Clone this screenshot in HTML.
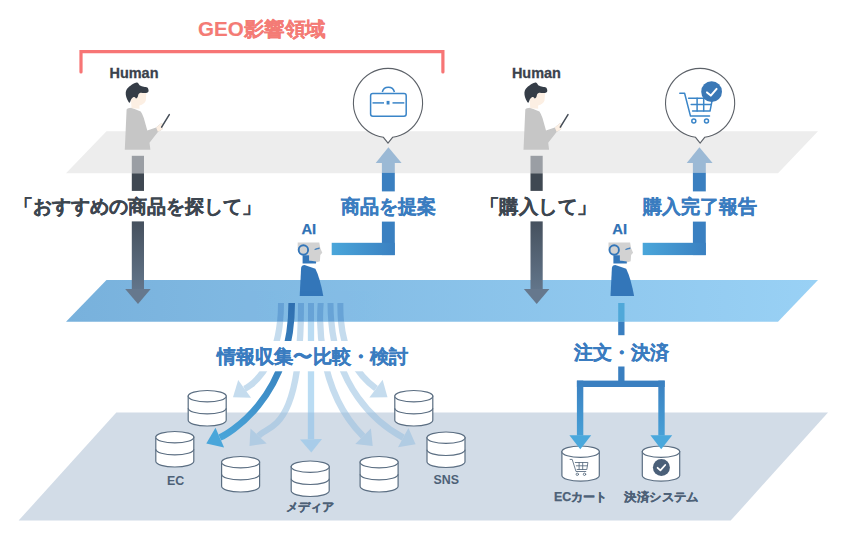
<!DOCTYPE html>
<html><head><meta charset="utf-8">
<style>
html,body{margin:0;padding:0;background:#fff;}
body{width:850px;height:545px;overflow:hidden;}
svg{display:block;font-family:"Liberation Sans",sans-serif;}
.jt{font-weight:bold;}
.st{stroke-width:0.3px;}
</style></head><body>
<svg width="850" height="545" viewBox="0 0 850 545">
<defs>
  <clipPath id="inPlane"><rect x="0" y="0" width="850" height="321.7"/></clipPath>
  <clipPath id="belowPlane"><rect x="0" y="321.7" width="850" height="300"/></clipPath>
  <linearGradient id="bluePlane" x1="0" x2="1" y1="0" y2="0">
    <stop offset="0" stop-color="#78b1dc"/>
    <stop offset="1" stop-color="#99d1f5"/>
  </linearGradient>
  <linearGradient id="humBar" x1="0" x2="0" y1="0" y2="1">
    <stop offset="0" stop-color="#46515e"/>
    <stop offset="1" stop-color="#62758a"/>
  </linearGradient>
  <linearGradient id="lH" gradientUnits="objectBoundingBox" x1="0" x2="1" y1="0" y2="0">
    <stop offset="0" stop-color="#4aa6da"/>
    <stop offset="1" stop-color="#3a80c1"/>
  </linearGradient>
  <linearGradient id="darkStream" gradientUnits="userSpaceOnUse" x1="291" y1="303" x2="215" y2="440">
    <stop offset="0" stop-color="#2f6fb0"/>
    <stop offset="1" stop-color="#4aa6da"/>
  </linearGradient>
  <linearGradient id="vDown" gradientUnits="userSpaceOnUse" x1="0" y1="380" x2="0" y2="449">
    <stop offset="0" stop-color="#3a7fc0"/>
    <stop offset="1" stop-color="#4aa8dc"/>
  </linearGradient>
</defs>

<!-- planes -->
<polygon points="106.5,131.3 818,131.3 778,173.3 66,173.3" fill="#ededed"/>
<polygon points="106.5,280 818,280 778,321.7 66,321.7" fill="url(#bluePlane)"/>
<polygon points="116.3,412.5 828,412.5 730.7,520.6 18.6,520.6" fill="#d2dce7"/>

<!-- bracket -->
<path d="M81,72 V51.6 H442.9 V72" fill="none" stroke="#f77575" stroke-width="3.2" stroke-linecap="round" stroke-linejoin="miter"/>
<text x="198" y="36" fill="#f47b75" stroke="#f47b75" stroke-width="0.15" font-size="20" class="jt" textLength="128" lengthAdjust="spacingAndGlyphs">GEO影響領域</text>

<!-- humans -->
<text x="109.5" y="77.8" fill="#3a424c" stroke="#3a424c" stroke-width="0.3" font-size="15" class="jt" textLength="49" lengthAdjust="spacingAndGlyphs">Human</text>
<text x="511.9" y="77.8" fill="#3a424c" stroke="#3a424c" stroke-width="0.3" font-size="15" class="jt" textLength="49" lengthAdjust="spacingAndGlyphs">Human</text>

<g>
 <path d="M124.8,149.8 L126.6,109.6 Q127.5,107.8 131.5,107.7 L140.7,111.5 Q142.5,114 143.8,118.1 L147.3,130.4 L156.1,127.4 L161.4,123 L163.2,124.3 L162.3,129.6 L157.9,132 L149.5,142.8 L150.4,149.8 Z" fill="#c6c6c6"/>
 <path d="M156.1,127.6 L161.4,123 L163.2,124.3 L162.3,129.6 L157.9,131.8 Z" fill="#fcefe3"/>
 <line x1="161.6" y1="127.2" x2="169.3" y2="114.6" stroke="#454d57" stroke-width="1.5" stroke-linecap="round"/>
 <path d="M130.6,96 L131.6,108.2 L139.5,108.8 L139.4,105.6 Q144.6,104 145.8,100.5 L146.3,94 Q146,91 143,91 L133,92 Z" fill="#fcefe3"/>
 <path d="M136.70,82.60 C135.73,82.65 134.20,83.27 132.80,84.10 C131.40,84.93 129.42,86.48 128.30,87.60 C127.18,88.72 126.52,89.62 126.10,90.80 C125.68,91.98 125.63,93.30 125.80,94.70 C125.97,96.10 126.47,97.87 127.10,99.20 C127.73,100.53 128.92,102.70 129.60,102.70 C130.28,102.70 130.60,100.10 131.20,99.20 C131.80,98.30 132.60,97.62 133.20,97.30 C133.80,96.98 134.32,97.12 134.80,97.30 C135.28,97.48 135.62,98.43 136.10,98.40 C136.58,98.37 137.28,97.82 137.70,97.10 C138.12,96.38 138.12,94.82 138.60,94.10 C139.08,93.38 139.63,92.97 140.60,92.80 C141.57,92.63 143.23,93.15 144.40,93.10 C145.57,93.05 146.90,92.93 147.60,92.50 C148.30,92.07 148.65,91.32 148.60,90.50 C148.55,89.68 148.10,88.23 147.30,87.60 C146.50,86.97 145.03,87.07 143.80,86.70 C142.57,86.33 140.77,85.88 139.90,85.40 C139.03,84.92 139.13,84.27 138.60,83.80 C138.07,83.33 137.67,82.55 136.70,82.60 Z" fill="#353d47"/>
 <rect x="131.8" y="155.8" width="12.2" height="17.5" fill="#9a9ea4"/>
 <rect x="131.8" y="173.3" width="12.2" height="17.6" fill="#3f4852"/>
 <rect x="131.8" y="221.4" width="12.2" height="68" fill="url(#humBar)"/>
 <polygon points="125.2,288.9 150.7,288.9 138,304.1" fill="#66788d"/>
</g>
<g transform="translate(398.7,0)">
<g>
 <path d="M124.8,149.8 L126.6,109.6 Q127.5,107.8 131.5,107.7 L140.7,111.5 Q142.5,114 143.8,118.1 L147.3,130.4 L156.1,127.4 L161.4,123 L163.2,124.3 L162.3,129.6 L157.9,132 L149.5,142.8 L150.4,149.8 Z" fill="#c6c6c6"/>
 <path d="M156.1,127.6 L161.4,123 L163.2,124.3 L162.3,129.6 L157.9,131.8 Z" fill="#fcefe3"/>
 <line x1="161.6" y1="127.2" x2="169.3" y2="114.6" stroke="#454d57" stroke-width="1.5" stroke-linecap="round"/>
 <path d="M130.6,96 L131.6,108.2 L139.5,108.8 L139.4,105.6 Q144.6,104 145.8,100.5 L146.3,94 Q146,91 143,91 L133,92 Z" fill="#fcefe3"/>
 <path d="M136.70,82.60 C135.73,82.65 134.20,83.27 132.80,84.10 C131.40,84.93 129.42,86.48 128.30,87.60 C127.18,88.72 126.52,89.62 126.10,90.80 C125.68,91.98 125.63,93.30 125.80,94.70 C125.97,96.10 126.47,97.87 127.10,99.20 C127.73,100.53 128.92,102.70 129.60,102.70 C130.28,102.70 130.60,100.10 131.20,99.20 C131.80,98.30 132.60,97.62 133.20,97.30 C133.80,96.98 134.32,97.12 134.80,97.30 C135.28,97.48 135.62,98.43 136.10,98.40 C136.58,98.37 137.28,97.82 137.70,97.10 C138.12,96.38 138.12,94.82 138.60,94.10 C139.08,93.38 139.63,92.97 140.60,92.80 C141.57,92.63 143.23,93.15 144.40,93.10 C145.57,93.05 146.90,92.93 147.60,92.50 C148.30,92.07 148.65,91.32 148.60,90.50 C148.55,89.68 148.10,88.23 147.30,87.60 C146.50,86.97 145.03,87.07 143.80,86.70 C142.57,86.33 140.77,85.88 139.90,85.40 C139.03,84.92 139.13,84.27 138.60,83.80 C138.07,83.33 137.67,82.55 136.70,82.60 Z" fill="#353d47"/>
 <rect x="131.8" y="155.8" width="12.2" height="17.5" fill="#9a9ea4"/>
 <rect x="131.8" y="173.3" width="12.2" height="17.6" fill="#3f4852"/>
 <rect x="131.8" y="221.4" width="12.2" height="68" fill="url(#humBar)"/>
 <polygon points="125.2,288.9 150.7,288.9 138,304.1" fill="#66788d"/>
</g></g>

<!-- bubbles -->
<path d="M383.4,137.29 A34.6,34.6 0 1 1 392.6,137.29 L388.0,143.1 Z" fill="#fff" stroke="#5c6168" stroke-width="1.1"/>
<g fill="none" stroke="#3a85c8" stroke-width="1.5">
 <rect x="370.6" y="93.6" width="35.6" height="22.6" rx="2.2"/>
 <path d="M382.3,92 A6.2,6.2 0 0 1 394.4,92" />
 <line x1="372.5" y1="102.9" x2="384" y2="102.9"/>
 <line x1="392.5" y1="102.9" x2="404.3" y2="102.9"/>
</g>
<rect x="386.6" y="100.9" width="2.9" height="3.6" fill="#3a85c8"/>

<path d="M695.5,137.29 A34.6,34.6 0 1 1 704.7,137.29 L700.1,143.1 Z" fill="#fff" stroke="#5c6168" stroke-width="1.1"/>
<g fill="none" stroke="#3a85c8" stroke-width="1.5" stroke-linejoin="round" stroke-linecap="round">
 <path d="M679.8,93.3 L684.6,93.3 L690.5,116.1 L709.5,116.1"/>
 <path d="M688.6,98.3 L712.5,98.3 L710,111.1 L692.6,111.1"/>
 <line x1="691.2" y1="104.5" x2="711" y2="104.5"/>
 <line x1="697.1" y1="98.3" x2="697.1" y2="111.1"/>
 <line x1="703.7" y1="98.3" x2="703.7" y2="111.1"/>
 <circle cx="693.8" cy="121.1" r="2"/>
 <circle cx="706.5" cy="121.1" r="2"/>
</g>
<circle cx="711.6" cy="91.7" r="10.4" fill="#3a78b6"/>
<path d="M707,92.4 L710.8,95.6 L716.6,88.9" fill="none" stroke="#fff" stroke-width="2" stroke-linecap="round" stroke-linejoin="round"/>

<!-- AI arrows up (left) -->
<polygon points="375.7,162.9 401.6,162.9 388.4,147.3" fill="#9bb9d5"/>
<rect x="381.9" y="162.5" width="12.9" height="10.6" fill="#9bb9d5"/>
<rect x="381.9" y="172.9" width="12.9" height="18.5" fill="#3a7fc0"/>
<rect x="381.9" y="221.6" width="12.9" height="33.5" fill="#3a80c1"/>
<rect x="331.7" y="242.8" width="63.1" height="12.3" fill="url(#lH)"/>

<g transform="translate(311,0)">
<polygon points="375.7,162.9 401.6,162.9 388.4,147.3" fill="#9bb9d5"/>
<rect x="381.9" y="162.5" width="12.9" height="10.6" fill="#9bb9d5"/>
<rect x="381.9" y="172.9" width="12.9" height="18.5" fill="#3a7fc0"/>
<rect x="381.9" y="221.6" width="12.9" height="33.5" fill="#3a80c1"/>
<rect x="331.7" y="242.8" width="63.1" height="12.3" fill="url(#lH)"/>
</g>

<!-- robots -->

<g>
 <path d="M297.7,242.6 L319.3,242.6 L320.3,248.3 L322.3,252.8 L320.3,255.1 L319.9,261.2 L315.9,262.5 L309.1,260.3 L309.1,255.5 L303.4,255.5 L297.7,250 Z" fill="#d2d2d2"/>
 <circle cx="303.4" cy="250" r="4.7" fill="#d2d2d2" stroke="#3376b9" stroke-width="1.9"/>
 <path d="M314.8,249.2 L319.3,247.8 L319.3,248.6 L314.8,249.6 Z" fill="#3376b9" stroke="#3376b9" stroke-width="0.6"/>
 <path d="M302.6,255.2 L309.1,255.2 L309.1,260.6 L316,261.6 L316,263.4 L302.6,263.4 Z" fill="#3376b9"/>
 <path d="M299.7,296.1 L301.1,268 Q301.5,265 304.5,265 L315.4,268.8 Q320,278 323.3,296.1 Z" fill="#3376b9"/>
 <text x="301.4" y="233.6" fill="#2f72b5" stroke="#2f72b5" stroke-width="0.25" font-size="14.8" class="jt">AI</text>
</g>
<g transform="translate(310.8,0)">
<g>
 <path d="M297.7,242.6 L319.3,242.6 L320.3,248.3 L322.3,252.8 L320.3,255.1 L319.9,261.2 L315.9,262.5 L309.1,260.3 L309.1,255.5 L303.4,255.5 L297.7,250 Z" fill="#d2d2d2"/>
 <circle cx="303.4" cy="250" r="4.7" fill="#d2d2d2" stroke="#3376b9" stroke-width="1.9"/>
 <path d="M314.8,249.2 L319.3,247.8 L319.3,248.6 L314.8,249.6 Z" fill="#3376b9" stroke="#3376b9" stroke-width="0.6"/>
 <path d="M302.6,255.2 L309.1,255.2 L309.1,260.6 L316,261.6 L316,263.4 L302.6,263.4 Z" fill="#3376b9"/>
 <path d="M299.7,296.1 L301.1,268 Q301.5,265 304.5,265 L315.4,268.8 Q320,278 323.3,296.1 Z" fill="#3376b9"/>
 <text x="301.4" y="233.6" fill="#2f72b5" stroke="#2f72b5" stroke-width="0.25" font-size="14.8" class="jt">AI</text>
</g></g>

<!-- fan -->
<g clip-path="url(#inPlane)" opacity="0.25"><path d="M281.0,303.0 C281.0,373.0 244.6,388.9 244.6,388.9" fill="none" stroke="#145aaa" stroke-width="6"/><path d="M301.0,303.0 C301.0,432.0 269.4,424.2 258.6,436.0" fill="none" stroke="#145aaa" stroke-width="6"/><path d="M311.0,303.0 C311.0,325.7 311.0,416.6 311.0,439.3" fill="none" stroke="#145aaa" stroke-width="6"/><path d="M320.7,303.0 C320.7,304.0 312.2,385.4 363.1,436.3" fill="none" stroke="#145aaa" stroke-width="6"/><path d="M330.5,303.0 C330.5,388.0 379.4,424.9 403.2,437.6" fill="none" stroke="#145aaa" stroke-width="6"/><path d="M340.4,303.0 C340.4,313.0 337.6,359.9 376.0,388.6" fill="none" stroke="#145aaa" stroke-width="6"/></g><g clip-path="url(#belowPlane)"><g opacity="0.55"><path d="M281.0,303.0 C281.0,373.0 244.6,388.9 244.6,388.9" fill="none" stroke="#96bfe0" stroke-width="6.3"/><polygon points="238.2,380.0 233.0,397.2 251.0,397.8" fill="#96bfe0"/></g><g opacity="0.55"><path d="M301.0,303.0 C301.0,432.0 269.4,424.2 258.6,436.0" fill="none" stroke="#96bfe0" stroke-width="6.3"/><polygon points="250.5,428.6 249.5,445.9 266.7,443.4" fill="#96bfe0"/></g><g opacity="0.58"><path d="M311.0,303.0 C311.0,325.7 311.0,416.6 311.0,439.3" fill="none" stroke="#8bc3ea" stroke-width="6.3"/><polygon points="300.0,439.5 311.3,452.5 322.0,439.1" fill="#8bc3ea"/></g><g opacity="0.55"><path d="M320.7,303.0 C320.7,304.0 312.2,385.4 363.1,436.3" fill="none" stroke="#96bfe0" stroke-width="6.3"/><polygon points="355.3,444.1 372.7,445.9 370.9,428.5" fill="#96bfe0"/></g><g opacity="0.55"><path d="M330.5,303.0 C330.5,388.0 379.4,424.9 403.2,437.6" fill="none" stroke="#96bfe0" stroke-width="6.3"/><polygon points="398.0,447.3 415.6,444.2 408.4,427.9" fill="#96bfe0"/></g><g opacity="0.55"><path d="M340.4,303.0 C340.4,313.0 337.6,359.9 376.0,388.6" fill="none" stroke="#96bfe0" stroke-width="6.3"/><polygon points="369.4,397.4 387.5,397.2 382.6,379.8" fill="#96bfe0"/></g></g><path d="M291.7,303.0 C291.7,400.0 226.2,434.8 219.8,437.6" fill="none" stroke="url(#darkStream)" stroke-width="6.6"/><polygon points="215.5,427.7 206.3,443.4 224.1,447.5" fill="#4aa6da"/>
<rect x="214" y="341" width="198" height="30.3" fill="#fff"/>

<!-- databases -->
<path d="M188.2,396.2 L188.2,420.3 A19,5.7 0 0 0 226.2,420.3 L226.2,396.2 Z" fill="#fff" stroke="#5b6e82" stroke-width="1.2"/><ellipse cx="207.2" cy="396.2" rx="19" ry="5.7" fill="#fff" stroke="#5b6e82" stroke-width="1.2"/><path d="M188.2,408.2 A19,5.7 0 0 0 226.2,408.2" fill="none" stroke="#5b6e82" stroke-width="1.2"/>
<path d="M155.8,437.2 L155.8,461.3 A19,5.7 0 0 0 193.8,461.3 L193.8,437.2 Z" fill="#fff" stroke="#5b6e82" stroke-width="1.2"/><ellipse cx="174.8" cy="437.2" rx="19" ry="5.7" fill="#fff" stroke="#5b6e82" stroke-width="1.2"/><path d="M155.8,449.2 A19,5.7 0 0 0 193.8,449.2" fill="none" stroke="#5b6e82" stroke-width="1.2"/>
<path d="M221.6,462.2 L221.6,486.3 A19,5.7 0 0 0 259.6,486.3 L259.6,462.2 Z" fill="#fff" stroke="#5b6e82" stroke-width="1.2"/><ellipse cx="240.6" cy="462.2" rx="19" ry="5.7" fill="#fff" stroke="#5b6e82" stroke-width="1.2"/><path d="M221.6,474.2 A19,5.7 0 0 0 259.6,474.2" fill="none" stroke="#5b6e82" stroke-width="1.2"/>
<path d="M291.2,466.7 L291.2,490.8 A19,5.7 0 0 0 329.2,490.8 L329.2,466.7 Z" fill="#fff" stroke="#5b6e82" stroke-width="1.2"/><ellipse cx="310.2" cy="466.7" rx="19" ry="5.7" fill="#fff" stroke="#5b6e82" stroke-width="1.2"/><path d="M291.2,478.8 A19,5.7 0 0 0 329.2,478.8" fill="none" stroke="#5b6e82" stroke-width="1.2"/>
<path d="M360.1,462.2 L360.1,486.3 A19,5.7 0 0 0 398.1,486.3 L398.1,462.2 Z" fill="#fff" stroke="#5b6e82" stroke-width="1.2"/><ellipse cx="379.1" cy="462.2" rx="19" ry="5.7" fill="#fff" stroke="#5b6e82" stroke-width="1.2"/><path d="M360.1,474.2 A19,5.7 0 0 0 398.1,474.2" fill="none" stroke="#5b6e82" stroke-width="1.2"/>
<path d="M394.8,396.2 L394.8,420.3 A19,5.7 0 0 0 432.8,420.3 L432.8,396.2 Z" fill="#fff" stroke="#5b6e82" stroke-width="1.2"/><ellipse cx="413.8" cy="396.2" rx="19" ry="5.7" fill="#fff" stroke="#5b6e82" stroke-width="1.2"/><path d="M394.8,408.2 A19,5.7 0 0 0 432.8,408.2" fill="none" stroke="#5b6e82" stroke-width="1.2"/>
<path d="M427.0,437.7 L427.0,461.8 A19,5.7 0 0 0 465.0,461.8 L465.0,437.7 Z" fill="#fff" stroke="#5b6e82" stroke-width="1.2"/><ellipse cx="446.0" cy="437.7" rx="19" ry="5.7" fill="#fff" stroke="#5b6e82" stroke-width="1.2"/><path d="M427.0,449.8 A19,5.7 0 0 0 465.0,449.8" fill="none" stroke="#5b6e82" stroke-width="1.2"/>
<path d="M561.9,451.7 L561.9,475.5 A18.7,5.7 0 0 0 599.3,475.5 L599.3,451.7 Z" fill="#fff" stroke="#5b6e82" stroke-width="1.2"/><ellipse cx="580.6" cy="451.7" rx="18.7" ry="5.7" fill="#fff" stroke="#5b6e82" stroke-width="1.2"/>
<path d="M642.3,451.7 L642.3,475.5 A18.7,5.7 0 0 0 679.7,475.5 L679.7,451.7 Z" fill="#fff" stroke="#5b6e82" stroke-width="1.2"/><ellipse cx="661.0" cy="451.7" rx="18.7" ry="5.7" fill="#fff" stroke="#5b6e82" stroke-width="1.2"/>

<g fill="none" stroke="#56697d" stroke-width="0.85" stroke-linejoin="round" stroke-linecap="round">
 <path d="M570.1,459.4 L572.2,459.4 L576,471.5 L585.8,471.5"/>
 <path d="M575.3,462.5 L587.9,462.5 L586.8,469.5 L577.1,469.5"/>
 <line x1="576.3" y1="465.8" x2="587.2" y2="465.8"/>
 <line x1="579.1" y1="462.5" x2="579.1" y2="469.5"/>
 <line x1="582.7" y1="462.5" x2="582.7" y2="469.5"/>
 <circle cx="577.3" cy="474.3" r="1.2"/>
 <circle cx="584.5" cy="474.3" r="1.2"/>
</g>
<circle cx="661.4" cy="467.6" r="8.5" fill="#4b6079"/>
<path d="M657.6,467.8 L660.4,470.4 L665.2,465" fill="none" stroke="#fff" stroke-width="1.8" stroke-linecap="round" stroke-linejoin="round"/>

<!-- order bars -->
<rect x="618.2" y="303" width="6.3" height="18.8" fill="#4fa8d9"/>
<rect x="618.2" y="321.8" width="6.3" height="13.4" fill="#3a7fc0"/>
<rect x="618.2" y="366.5" width="6.3" height="17" fill="#3a7fc0"/>
<rect x="576.9" y="380.6" width="87.8" height="6.4" fill="#3a7fc0"/>
<rect x="576.9" y="380.6" width="6.4" height="55" fill="url(#vDown)"/>
<rect x="658.3" y="380.6" width="6.4" height="55" fill="url(#vDown)"/>
<polygon points="569.4,435.3 591.2,435.3 580.3,449.3" fill="#4aa8dc"/>
<polygon points="650.4,435.3 672.2,435.3 661.2,449.3" fill="#4aa8dc"/>

<!-- texts -->
<text x="14" y="213" fill="#3d4650" stroke="#3d4650" font-size="19" class="jt st" textLength="247" lengthAdjust="spacingAndGlyphs">「おすすめの商品を探して」</text>
<text x="340.5" y="213" fill="#3a7cc0" stroke="#3a7cc0" font-size="19" class="jt st" textLength="95.4" lengthAdjust="spacingAndGlyphs">商品を提案</text>
<text x="480" y="213" fill="#3d4650" stroke="#3d4650" font-size="19" class="jt st" textLength="116.5" lengthAdjust="spacingAndGlyphs">「購入して」</text>
<text x="642.5" y="213" fill="#3a7cc0" stroke="#3a7cc0" font-size="19" class="jt st" textLength="114" lengthAdjust="spacingAndGlyphs">購入完了報告</text>
<text x="216.5" y="363" fill="#3a7cc0" stroke="#3a7cc0" font-size="19" class="jt st" textLength="192" lengthAdjust="spacingAndGlyphs">情報収集〜比較・検討</text>
<text x="574.3" y="358.5" fill="#3a7cc0" stroke="#3a7cc0" font-size="19" class="jt st" textLength="95.2" lengthAdjust="spacingAndGlyphs">注文・決済</text>

<text x="166.9" y="484.9" fill="#4d6177" font-size="12.4" class="jt">EC</text>
<text x="433.5" y="484" fill="#4d6177" font-size="12.4" class="jt">SNS</text>
<text x="285.6" y="511" fill="#4d6177" stroke="#4d6177" stroke-width="0.25" font-size="12.4" class="jt" textLength="48.8" lengthAdjust="spacingAndGlyphs">メディア</text>
<text x="554.1" y="500.5" fill="#4d6177" stroke="#4d6177" stroke-width="0.25" font-size="12.4" class="jt" textLength="53.3" lengthAdjust="spacingAndGlyphs">ECカート</text>
<text x="624.4" y="500.5" fill="#4d6177" stroke="#4d6177" stroke-width="0.25" font-size="12.4" class="jt" textLength="74.3" lengthAdjust="spacingAndGlyphs">決済システム</text>
</svg>
</body></html>
